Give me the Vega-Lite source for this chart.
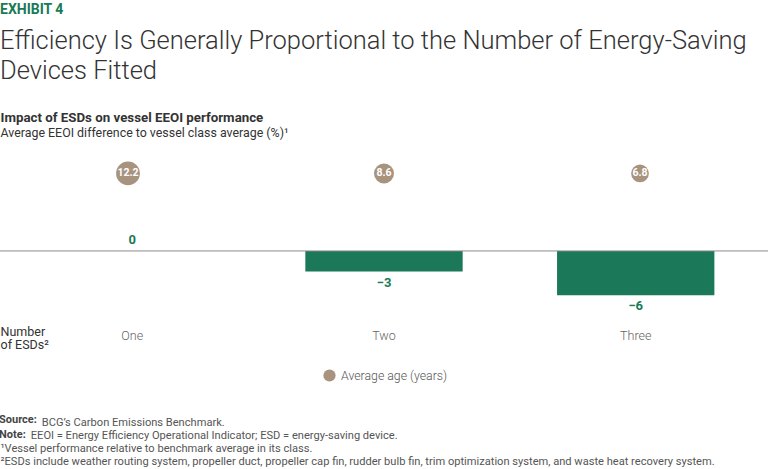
{
  "$schema": "https://vega.github.io/schema/vega-lite/v6.json",
  "width": 768,
  "height": 155,
  "autosize": {"type": "none"},
  "padding": {"left": 0, "top": 155, "right": 0, "bottom": 159},
  "background": "white",
  "config": {"view": {"stroke": null}, "font": "Roboto"},
  "title": {
    "text": "EXHIBIT 4",
    "subtitle": ["Efficiency Is Generally Proportional to the Number of Energy-Saving", "Devices Fitted"],
    "anchor": "start",
    "frame": "group",
    "font": "Roboto",
    "fontSize": 14,
    "fontWeight": "bold",
    "color": "#197a56",
    "subtitleFont": "Roboto",
    "subtitleFontSize": 25.5,
    "subtitleFontWeight": 300,
    "subtitleColor": "#333333",
    "subtitleLineHeight": 30,
    "subtitlePadding": 12,
    "offset": 26
  },
  "data": {
    "values": [
      {"esds": "One", "eeoi": 0, "age": 12.2},
      {"esds": "Two", "eeoi": -2.8, "age": 8.6},
      {"esds": "Three", "eeoi": -6, "age": 6.8}
    ]
  },
  "layer": [
    {
      "layer": [
        {
          "mark": {"type": "bar", "color": "#1b7858"},
          "encoding": {
            "x": {
              "field": "esds", "type": "nominal", "sort": ["One", "Two", "Three"],
              "scale": {"paddingInner": 0.375, "paddingOuter": 0.213},
              "axis": {
                "orient": "bottom", "ticks": false, "tickSize": 0, "domain": false, "labelAngle": 0,
                "labelPadding": 19.5, "labelFontSize": 12.5, "labelFontWeight": 300, "labelColor": "#666666", "labelFont": "Roboto",
                "title": ["Number", "of ESDs²"], "titleX": 0, "titleY": 15.7, "titleAlign": "left", "titleAnchor": "start",
                "titleBaseline": "top", "titleFontWeight": "normal", "titleFontSize": 12.5, "titleLineHeight": 13.3, "titleColor": "#333333", "titleFont": "Roboto"
              }
            },
            "y": {
              "field": "eeoi", "type": "quantitative",
              "scale": {"domain": [-8, 13], "nice": false, "zero": false},
              "axis": {
                "orient": "left", "labels": false, "ticks": false, "domain": false, "grid": false,
                "title": "Impact of ESDs on vessel EEOI performance", "titleAngle": 0, "titleX": 0, "titleY": -44.5,
                "titleAlign": "left", "titleBaseline": "top", "titleFontWeight": "bold", "titleFontSize": 13.3, "titleColor": "#333333", "titleFont": "Roboto"
              }
            }
          }
        },
        {
          "data": {"values": [{"line": "baseline"}]},
          "mark": {"type": "rule", "color": "#8c8c8c", "strokeWidth": 1},
          "encoding": {
            "y": {"datum": 0, "type": "quantitative"},
            "strokeDash": {
              "datum": "Source:",
              "scale": {"domain": ["Source:", "Note:"], "range": [[1, 0], [1, 0]]},
              "legend": {
                "orient": "none", "legendX": -12, "legendY": 259, "direction": "vertical", "title": null, "padding": 0,
                "labelFont": "Roboto", "labelFontWeight": "bold", "labelFontSize": 11, "labelColor": "#444444",
                "symbolSize": 0, "symbolStrokeWidth": 0, "symbolOpacity": 0, "labelOffset": 0, "rowPadding": 3.2
              }
            }
          }
        },
        {
          "transform": [{"filter": "datum.eeoi < 0"}],
          "mark": {"type": "text", "color": "#197a56", "fontWeight": "bold", "fontSize": 13, "baseline": "middle", "dy": 11, "font": "Roboto"},
          "encoding": {
            "x": {"field": "esds", "type": "nominal", "sort": ["One", "Two", "Three"]},
            "y": {"field": "eeoi", "type": "quantitative"},
            "text": {"field": "eeoi", "type": "quantitative", "format": ".0f"}
          }
        },
        {
          "transform": [{"filter": "datum.eeoi >= 0"}],
          "mark": {"type": "text", "color": "#197a56", "fontWeight": "bold", "fontSize": 13, "baseline": "middle", "dy": -11, "font": "Roboto"},
          "encoding": {
            "x": {"field": "esds", "type": "nominal", "sort": ["One", "Two", "Three"]},
            "y": {"field": "eeoi", "type": "quantitative"},
            "text": {"field": "eeoi", "type": "quantitative", "format": ".0f"}
          }
        }
      ]
    },
    {
      "layer": [
        {
          "mark": {"type": "circle", "opacity": 1},
          "encoding": {
            "x": {
              "field": "esds", "type": "nominal", "sort": ["One", "Two", "Three"],
              "scale": {"paddingInner": 0.375, "paddingOuter": 0.213},
              "axis": {
                "orient": "top", "ticks": false, "domain": false, "labels": false,
                "title": [
                  "\u200b\u00a0\u00a0\u00a0\u00a0\u00a0\u00a0\u00a0\u00a0\u00a0\u00a0\u00a0\u00a0\u00a0\u00a0 BCG’s Carbon Emissions Benchmark.",
                  "\u200b\u00a0\u00a0\u00a0\u00a0\u00a0\u00a0\u00a0\u00a0\u00a0\u00a0 EEOI = Energy Efficiency Operational Indicator; ESD = energy-saving device.",
                  "¹Vessel performance relative to benchmark average in its class.",
                  "²ESDs include weather routing system, propeller duct, propeller cap fin, rudder bulb fin, trim optimization system, and waste heat recovery system."
                ],
                "titleX": 0, "titleY": 261, "titleAlign": "left", "titleAnchor": "start", "titleBaseline": "top",
                "titleFontWeight": "normal", "titleFontSize": 11.1, "titleLineHeight": 13.3, "titleColor": "#555555", "titleFont": "Roboto"
              }
            },
            "y": {
              "datum": 10.5, "type": "quantitative",
              "scale": {"domain": [-8, 13], "nice": false, "zero": false},
              "axis": {
                "orient": "right", "labels": false, "ticks": false, "domain": false, "grid": false,
                "title": "Average EEOI difference to vessel class average (%)¹", "titleAngle": 0, "titleX": -768, "titleY": -29,
                "titleAlign": "left", "titleBaseline": "top", "titleFontWeight": "normal", "titleFontSize": 12.4, "titleColor": "#333333", "titleFont": "Roboto"
              }
            },
            "size": {"field": "age", "type": "quantitative", "scale": {"domain": [0, 12.2], "range": [0, 565]}, "legend": null},
            "fill": {
              "datum": "Average age (years)",
              "scale": {"range": ["#a8937f"]},
              "legend": {
                "orient": "none", "legendX": 323, "legendY": 214, "title": null, "padding": 0,
                "symbolType": "circle", "symbolSize": 150, "symbolStrokeWidth": 0,
                "labelFont": "Roboto", "labelFontSize": 12.3, "labelFontWeight": 300, "labelColor": "#555555", "labelOffset": 5
              }
            }
          }
        },
        {
          "mark": {"type": "text", "color": "white", "fontWeight": "bold", "fontSize": 10.5, "baseline": "middle", "font": "Roboto"},
          "encoding": {
            "x": {"field": "esds", "type": "nominal", "sort": ["One", "Two", "Three"]},
            "y": {"datum": 10.5, "type": "quantitative"},
            "text": {"field": "age", "type": "quantitative", "format": ".1f"}
          }
        }
      ]
    }
  ],
  "resolve": {"scale": {"x": "independent", "y": "independent"}}
}
